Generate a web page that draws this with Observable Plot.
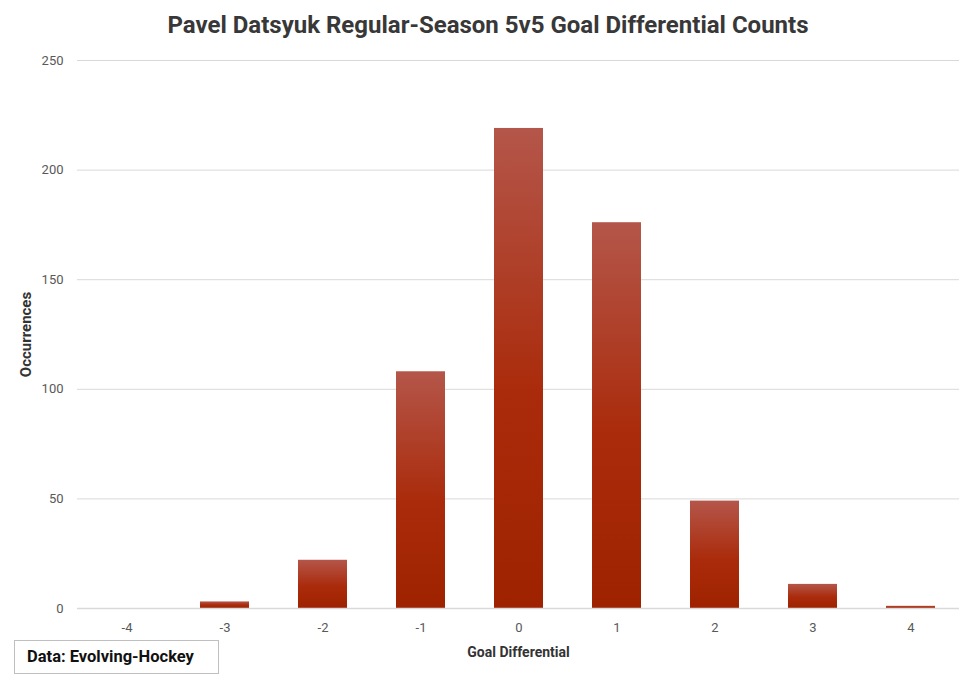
<!DOCTYPE html>
<html>
<head>
<meta charset="utf-8">
<script src="https://cdn.jsdelivr.net/npm/d3@7"></script>
<script src="https://cdn.jsdelivr.net/npm/@observablehq/plot@0.6"></script>
<style>
  html, body { margin: 0; padding: 0; background: #fff; }
  body { width: 976px; height: 678px; position: relative; overflow: hidden; font-family: Roboto, "Liberation Sans", sans-serif; }
  #title { position: absolute; top: 9px; left: 0; width: 976px; text-align: center; font-family: "Liberation Sans Narrow", Roboto, sans-serif; font-weight: bold; font-size: 24px; color: #383838; line-height: 32px; }
  #chart { position: absolute; top: 40px; left: 0; }
  #source { position: absolute; left: 14px; top: 640px; width: 205px; height: 34px; border: 1px solid #bfbfbf; box-sizing: border-box; font-weight: bold; font-size: 16.5px; line-height: 32px; padding-left: 12px; color: #111; background: #fff; }
</style>
</head>
<body>
<div id="title">Pavel Datsyuk Regular-Season 5v5 Goal Differential Counts</div>
<div id="chart"></div>
<div id="source">Data: Evolving-Hockey</div>
<script>
const goalDiff = ["-4", "-3", "-2", "-1", "0", "1", "2", "3", "4"];
const occurrences = [0, 3, 22, 108, 219, 176, 49, 11, 1];
const yTicks = [0, 50, 100, 150, 200, 250];

const data = goalDiff.map((g, i) => ({g, n: occurrences[i]}));

const plot = Plot.plot({
  width: 976,
  height: 625,
  marginTop: 20,
  marginBottom: 57,
  marginLeft: 77,
  marginRight: 17,
  style: {fontFamily: "Roboto, 'Liberation Sans', sans-serif", fontSize: "13px", color: "#595959"},
  x: {domain: goalDiff, paddingInner: 0.5, paddingOuter: 0.25, label: "Goal Differential"},
  y: {domain: [0, 250], ticks: yTicks, label: "Occurrences"},
  marks: [
    Plot.gridY(yTicks, {stroke: "#d9d9d9", strokeOpacity: 1}),
    Plot.axisY(yTicks, {tickSize: 0, tickPadding: 14, label: "Occurrences", labelAnchor: "center", labelArrow: "none", labelOffset: 57, fill: "#595959"}),
    Plot.axisX({tickSize: 0, tickPadding: 14, label: "Goal Differential", labelAnchor: "center", labelArrow: "none", labelOffset: 48, fill: "#595959"}),
    Plot.barY(data, {x: "g", y: "n", fill: "url(#barGrad)"}),
    Plot.ruleY([0], {stroke: "#d9d9d9", strokeWidth: 1.5})
  ]
});

const ns = "http://www.w3.org/2000/svg";
const defs = document.createElementNS(ns, "defs");
const grad = document.createElementNS(ns, "linearGradient");
grad.setAttribute("id", "barGrad");
grad.setAttribute("x1", "0"); grad.setAttribute("y1", "0");
grad.setAttribute("x2", "0"); grad.setAttribute("y2", "1");
[["0", "#b4564a"], ["0.55", "#aa2b0b"], ["1", "#9e2200"]].forEach(([o, c]) => {
  const s = document.createElementNS(ns, "stop");
  s.setAttribute("offset", o); s.setAttribute("stop-color", c);
  grad.appendChild(s);
});
defs.appendChild(grad);
plot.insertBefore(defs, plot.firstChild);

plot.querySelectorAll("g[aria-label='x-axis label'] text").forEach(t => {
  t.setAttribute("font-weight", "bold");
  t.setAttribute("font-size", "14px");
  t.setAttribute("fill", "#333");
});
plot.querySelectorAll("g[aria-label='y-axis label'] text").forEach(t => {
  t.setAttribute("font-weight", "bold");
  t.setAttribute("font-size", "15px");
  t.setAttribute("fill", "#333");
});

document.getElementById("chart").appendChild(plot);
</script>
</body>
</html>
